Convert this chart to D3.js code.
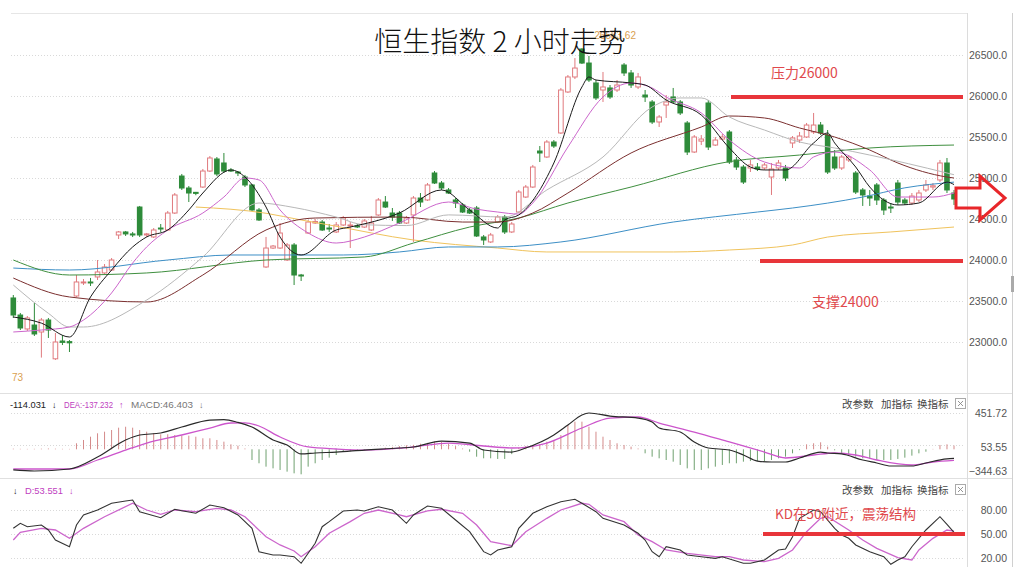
<!DOCTYPE html>
<html><head><meta charset="utf-8">
<script src="https://cdn.jsdelivr.net/npm/d3@7"></script>
<style>body{margin:0;background:#fff;}svg{display:block;}</style>
</head><body>
<svg id="c" width="1024" height="567"></svg>
<script>
// ---------- DATA ----------
const opens = [23537,23329,23159,23207,23122,23268,22795,23012,23005,23561,
23720,23732,23793,23842,23878,24305,24342,24318,24646,24305,
24281,24390,24366,24573,25024,24878,24825,24890,25085,25232,
25183,25098,25073,25012,24915,24610,23915,24146,24146,24000,
24183,23817,24329,24451,24463,24390,24342,24427,24415,24415,
24402,24366,24549,24707,24573,24573,24451,24549,24756,24732,
25061,24939,24854,24732,24671,24610,24634,24281,24220,24463,
24525,24342,24585,24768,24890,25329,25256,25439,25549,26049,
26232,26573,26402,26159,26073,26098,26073,26378,26281,26110,
26012,25927,25683,25890,25988,25927,25671,25317,25450,25915,
25402,25475,25561,25220,25134,25122,25134,25122,25012,25122,
25122,25427,25463,25500,25561,25646,25524,25256,25122,25220,
25061,24854,24780,24915,24732,24646,24939,24732,24695,24732,
24854,24890,24976,25183,24817];
const highs = [23573,23354,23317,23476,23293,23293,23110,23085,23024,23817,
23768,23781,24000,23951,24024,24354,24354,24342,24659,24330,
24390,24439,24598,24817,25049,24902,24830,25110,25268,25256,
25305,25122,25085,25037,24927,24634,24281,24183,24451,24207,
24207,23830,24488,24500,24488,24439,24463,24537,24463,24440,
24500,24537,24756,24780,24634,24598,24537,24780,24817,24939,
25085,24963,24878,24756,24695,24634,24659,24305,24330,24549,
24549,24463,24854,24915,25159,25390,25463,25463,26098,26256,
26463,26583.62,26488,26195,26293,26134,26195,26402,26317,26281,
26073,25951,25768,26012,26098,25951,25695,25524,25524,25951,
25500,25537,25585,25256,25159,25220,25183,25183,25183,25220,
25159,25512,25561,25671,25793,25683,25585,25341,25280,25280,
25085,24878,24854,24939,24756,24695,24976,24756,24817,24854,
24976,24939,25220,25244,24854];
const lows = [23293,23146,23134,23073,22810,23049,22780.73,22963,22878,23549,
23695,23683,23756,23829,23866,24256,24293,24280,24280,24280,
24268,24342,24354,24561,24854,24707,24790,24878,25073,25024,
25061,25073,25024,24890,24598,24476,23903,24134,24134,23988,
23695,23744,24317,24439,24354,24342,24329,24415,24146,24390,
24390,24354,24537,24634,24476,24439,24439,24220,24646,24720,
24927,24854,24805,24634,24573,24561,24281,24183,24207,24451,
24317,24329,24573,24756,24878,25195,25244,25366,25537,26037,
26207,26390,26171,25951,25927,25964,26049,26244,26098,26085,
25927,25658,25622,25732,25915,25768,25280,25305,25402,25341,
25390,25463,25171,25098,24927,25073,25085,25098,24793,25098,
24963,25366,25427,25488,25537,25524,25049,25098,25098,25195,
24805,24659,24659,24671,24549,24573,24671,24671,24671,24707,
24829,24854,24951,24817,24671];
const closes = [23329,23171,23293,23098,23268,23146,23000,22995,22990,23732,
23732,23720,23854,23915,24000,24342,24318,24305,24305,24318,
24366,24378,24573,24793,24878,24817,24812,25085,25244,25049,
25085,25085,25061,24915,24610,24488,24146,24170,24329,24183,
23817,23805,24463,24470,24366,24378,24427,24512,24427,24405,
24476,24451,24732,24646,24524,24451,24512,24756,24707,24915,
24939,24878,24817,24695,24585,24573,24293,24244,24305,24525,
24342,24439,24829,24890,25134,25305,25439,25390,26073,26232,
26341,26402,26195,25976,26110,25988,26134,26281,26134,26232,
25988,25683,25744,25927,25927,25793,25317,25500,25475,25378,
25463,25500,25195,25134,24951,25159,25110,25159,25110,25183,
25000,25488,25512,25646,25646,25549,25073,25122,25256,25256,
24829,24793,24756,24732,24610,24634,24707,24695,24780,24817,
24915,24905,25183,24854,24744];

// moving averages, [bar index, value]
const ma5 = [[0,23305],[4,23230],[8,23061],[11,23549],[14,23878],[17,24159],[19,24281],[22,24366],[25,24610],[27,24817],[31,25098],[33,25012],[36,24646],[38,24280],[41,24061],[46,24366],[48,24402],[55,24573],[61,24854],[65,24610],[69,24390],[70,24488],[72,24549],[77,25183],[81,26110],[82,26232],[83,26195],[88,26159],[90,26134],[93,25951],[98,25768],[102,25366],[105,25134],[107,25098],[110,25098],[114,25427],[116,25549],[117,25427],[120,25134],[122,24890],[126,24671],[129,24695],[133,24950],[134,24920]];
const ma10 = [[0,23122],[4,23146],[8,23183],[10,23268],[14,23598],[17,23963],[19,24159],[22,24366],[27,24573],[30,24768],[33,25000],[35,24976],[38,24610],[42,24330],[46,24207],[50,24280],[55,24451],[62,24707],[66,24620],[69,24585],[72,24560],[74,24695],[79,25378],[84,25988],[88,26159],[91,26098],[93,25988],[98,25793],[102,25463],[107,25195],[112,25122],[114,25256],[117,25317],[122,25098],[126,24768],[131,24768],[134,24817]];
const ma20 = [[0,23695],[5,23350],[8,23183],[10,23183],[19,23512],[27,24037],[35,24695],[40,24640],[46,24524],[50,24430],[56,24420],[62,24550],[70,24524],[76,24854],[84,25256],[91,25866],[95,25976],[98,25976],[102,25744],[107,25585],[112,25439],[117,25366],[122,25280],[133,25061],[134,25040]];
const ma30 = [[0,23780],[8,23549],[19,23488],[27,23817],[36,24366],[43,24512],[55,24524],[64,24463],[69,24463],[74,24573],[79,24817],[88,25305],[98,25622],[102,25756],[107,25732],[112,25610],[117,25500],[122,25341],[126,25183],[133,25012],[134,25000]];
const ma60 = [[0,24000],[8,23817],[19,23842],[36,24000],[50,24037],[57,24207],[65,24402],[72,24512],[79,24695],[88,24890],[102,25200],[112,25280],[122,25366],[134,25402]];
const ma120 = [[0,23902],[8,23878],[22,24000],[31,24061],[47,24061],[55,24098],[62,24159],[69,24159],[78,24220],[94,24463],[106,24585],[111,24634],[121,24768],[127,24880],[134,24950]];
const ma250 = [[26,24646],[36,24570],[41,24488],[45,24427],[57,24244],[69,24146],[76,24098],[94,24098],[102,24122],[111,24183],[116,24280],[125,24342],[134,24402]];

// MACD
const dif = [[0,-257],[3,-270],[8,-245],[12,-96],[16,116],[18,178],[21,203],[24,277],[28,364],[30,370],[32,335],[34,277],[37,116],[39,53],[41,-58],[43,-46],[46,-34],[50,-9],[55,16],[57,29],[61,103],[65,78],[67,-9],[71,-34],[73,16],[77,178],[79,302],[81,427],[82,451.72],[85,414],[89,389],[91,340],[92,265],[95,215],[97,91],[99,16],[102,-9],[104,-71],[106,-146],[108,-158],[110,-158],[112,-108],[115,-34],[116,-46],[118,-58],[121,-133],[123,-170],[125,-208],[128,-208],[130,-170],[133,-120],[134,-114.031]];
const dea = [[0,-245],[8,-245],[12,-133],[16,-9],[19,78],[24,178],[28,265],[31,327],[33,330],[35,290],[38,153],[42,29],[46,4],[50,-9],[57,29],[62,78],[67,41],[71,16],[76,78],[81,265],[85,389],[89,402],[92,327],[97,215],[102,91],[107,-34],[110,-108],[114,-71],[117,-46],[120,-71],[123,-133],[128,-195],[131,-158],[134,-137.232]];
const macdHist = [8,6,5,6,8,10,8,6,5,
75,116,157,199,219,240,269,281,269,240,219,199,187,187,178,170,170,157,137,137,116,95,62,45,10,
-133,-174,-216,-237,-257,-278,-299,-311,-216,-174,-133,-104,-71,
-30,-25,-20,-15,-10,-5,
20,30,40,50,55,70,80,95,90,70,40,10,
-30,-92,-112,-112,-120,-120,-60,
20,41,54,62,95,116,178,302,344,344,281,219,157,116,75,54,33,10,
-50,-92,-112,-133,-154,-195,-237,-257,-257,-237,-216,-195,-174,-174,-154,-146,-146,-146,-133,-112,-92,-50,-10,
62,75,87,33,-12,
-50,-71,-92,-112,-120,-133,-133,-133,-120,-104,-79,-50,-30,5,54,62,46.403];

// KD
const kLine = [[0,57.1],[1,63.4],[2,59.1],[4,61.3],[5,55],[6,42.5],[8,34.1],[9,61.3],[10,73.8],[12,80],[14,88.4],[16,91.3],[17,92.5],[18,77.9],[21,70.4],[23,80.9],[24,79.1],[26,75.9],[28,86.3],[30,82.9],[32,73.8],[34,57.1],[35,27.9],[37,23.8],[38,23.8],[40,21.6],[41,13.4],[43,38.4],[44,59.1],[45,65.4],[47,78.8],[49,80],[50,78.8],[52,84.1],[54,80],[56,63.4],[57,73.8],[59,85],[61,82.1],[63,67.5],[65,52.9],[67,27.9],[68,23.8],[69,30],[71,34.1],[72,57.1],[74,75.9],[76,84.1],[78,90.4],[80,93.4],[81,88.4],[83,77.9],[84,69.6],[87,61.3],[89,50.9],[90,42.5],[91,27.9],[92,21.6],[93,34.1],[95,30],[96,23.8],[98,21.6],[100,19.6],[101,21.6],[104,13.4],[105,13.4],[107,17.5],[108,23.8],[109,30],[110,31.3],[111,46.6],[112,69.6],[114,80],[115,77.9],[117,57.1],[118,48.8],[119,44.6],[120,36.3],[122,27.9],[124,21.6],[125,12.1],[126,17.5],[127,21.6],[128,34.1],[130,55],[132,71.6],[133,62.1],[134,52.1]];
const dLine = [[0,42.5],[1,52.1],[4,57.1],[6,55],[8,44.6],[10,57.1],[13,71.6],[17,88.4],[19,80],[21,74.6],[23,80],[26,77.9],[29,82.1],[31,80],[33,71.6],[36,46.6],[38,36.3],[40,28.8],[41,21.6],[43,34.1],[45,50.9],[48,65.4],[50,75.9],[52,80],[55,73.8],[56,71.6],[59,78.8],[61,80.9],[64,75.9],[66,61.3],[68,40.4],[71,35.4],[73,52.9],[76,69.6],[78,80],[81,88.4],[82,87.1],[84,73.8],[87,65.4],[89,48.8],[91,40.4],[93,30],[96,25.9],[100,21.6],[102,21.6],[104,17.5],[107,15.4],[109,19.6],[111,30],[113,52.9],[115,69.6],[116,71.6],[119,55],[121,42.5],[123,32.1],[126,20.4],[128,17.5],[129,30],[131,44.6],[133,55],[134,53.551]];

const priceTicks = [26500,26000,25500,25000,24500,24000,23500,23000];
const macdTicks = [451.72,53.55,-344.63];
const kdTicks = [80,50,20];
const resistance = 26000, support = 24000, kdLevel = 50;
const maxPrice = 26583.62;

// ---------- DRAW ----------
const svg = d3.select('#c');
const N = opens.length;
const x = d3.scaleLinear().domain([0, N-1]).range([13.3, 954]);
const y = d3.scaleLinear().domain([23000, 26500]).range([342, 55]);
const yM = d3.scaleLinear().domain([-344.63, 451.72]).range([477, 413]);
const yK = d3.scaleLinear().domain([20, 80]).range([558, 510]);

const gridC = '#d9d9d9', axisTxt = '#555';
const LX0 = 11, LX1 = 965;

// frames
svg.append('line').attr('x1',LX0).attr('x2',967).attr('y1',13.5).attr('y2',13.5).attr('stroke','#e6e6e6');
[393.5, 478.5].forEach(v=>svg.append('line').attr('x1',0).attr('x2',1012).attr('y1',v).attr('y2',v).attr('stroke','#e0e0e0'));
svg.append('line').attr('x1',967.5).attr('x2',967.5).attr('y1',13).attr('y2',567).attr('stroke','#dcdcdc');
svg.append('line').attr('x1',1012.5).attr('x2',1012.5).attr('y1',13).attr('y2',567).attr('stroke','#d0d0d0');
svg.append('rect').attr('x',1011).attr('y',276).attr('width',3).attr('height',16).attr('fill','#aaa');

// grids
const dotted = (yy)=>svg.append('line').attr('x1',LX0).attr('x2',LX1).attr('y1',Math.round(yy)+0.5).attr('y2',Math.round(yy)+0.5)
  .attr('stroke',gridC).attr('stroke-dasharray','1,2');
priceTicks.forEach(t=>dotted(y(t)));
macdTicks.slice(0,2).forEach(t=>dotted(yM(t)));
kdTicks.forEach(t=>dotted(yK(t)));

// axis labels
const fmt1 = d3.format('.1f'), fmt2 = d3.format('.2f');
const ax = svg.append('g').attr('font-family','Liberation Sans, Arial, sans-serif').attr('font-size','10.5px').attr('fill',axisTxt).attr('text-anchor','end');
priceTicks.forEach(t=>ax.append('text').attr('x',1007).attr('y',y(t)).attr('dy','0.35em').text(fmt1(t)));
macdTicks.forEach(t=>ax.append('text').attr('x',1007).attr('y',Math.min(yM(t)+(t===53.55?2:0),471)).attr('dy','0.35em').text(fmt2(t)));
kdTicks.forEach(t=>ax.append('text').attr('x',1007).attr('y',yK(t)).attr('dy','0.35em').text(fmt2(t)));

// candles
const upC = '#e07a7e', dnC = '#2e8b3a', bw = 4.6;
const cg = svg.append('g');
d3.range(N).forEach(i=>{
  const up = closes[i] >= opens[i];
  const col = up ? upC : dnC;
  const cx = x(i);
  cg.append('line').attr('x1',cx).attr('x2',cx).attr('y1',y(highs[i])).attr('y2',y(lows[i])).attr('stroke',col).attr('stroke-width',1);
  const top = y(Math.max(opens[i],closes[i])), bot = y(Math.min(opens[i],closes[i]));
  const h = Math.max(bot-top, 1);
  if (up) cg.append('rect').attr('x',cx-bw/2).attr('y',top).attr('width',bw).attr('height',h).attr('fill','#fff').attr('stroke',col).attr('stroke-width',1);
  else cg.append('rect').attr('x',cx-bw/2-0.5).attr('y',top-0.5).attr('width',bw+1).attr('height',h+1).attr('fill',col);
});

// moving averages
const maLine = d3.line().x(d=>x(d[0])).y(d=>y(d[1])).curve(d3.curveMonotoneX);
const maSet = [[ma250,'#f0c35c'],[ma120,'#3d8fc6'],[ma60,'#3f8f3f'],[ma30,'#7b2f2f'],[ma20,'#b8b8b8'],[ma10,'#cc66cc'],[ma5,'#1a1a1a']];
maSet.forEach(([d,c])=>svg.append('path').attr('d',maLine(d)).attr('fill','none').attr('stroke',c).attr('stroke-width',1));

// price labels
svg.append('text').attr('x',636).attr('y',39).attr('text-anchor','end').attr('font-family','Liberation Sans, Arial, sans-serif').attr('font-size','10px').attr('fill','#d9a050').text(fmt2(maxPrice));
svg.append('text').attr('x',12).attr('y',381).attr('font-family','Liberation Sans, Arial, sans-serif').attr('font-size','10px').attr('fill','#d9a050').text('73');

// MACD histogram
const y0 = yM(0);
macdHist.forEach((v,i)=>{
  svg.append('line').attr('x1',x(i)).attr('x2',x(i)).attr('y1',y0).attr('y2',yM(v))
    .attr('stroke', v>=0 ? '#d48a8a' : '#6fa06f').attr('stroke-width',1);
});
const mLine = d3.line().x(d=>x(d[0])).y(d=>yM(d[1])).curve(d3.curveMonotoneX);
svg.append('path').attr('d',mLine(dea)).attr('fill','none').attr('stroke','#cc55cc').attr('stroke-width',1.3);
svg.append('path').attr('d',mLine(dif)).attr('fill','none').attr('stroke','#2a2a2a').attr('stroke-width',1.2);

// KD
const kdL = d3.line().x(d=>x(d[0])).y(d=>yK(d[1]));
svg.append('path').attr('d',kdL(dLine)).attr('fill','none').attr('stroke','#cc66cc').attr('stroke-width',1.3);
svg.append('path').attr('d',kdL(kLine)).attr('fill','none').attr('stroke','#333').attr('stroke-width',1.1);

// headers
const hf = 'Liberation Sans, Arial, sans-serif';
const hdr = (xx,yy,t,c,len)=>{
  const el = svg.append('text').attr('x',xx).attr('y',yy).attr('font-family',hf).attr('font-size','9px').attr('fill',c).text(t);
  if (len) el.attr('textLength',len).attr('lengthAdjust','spacingAndGlyphs');
};
hdr(10,408,'-114.031','#222',36); hdr(52,408,'↓','#222');
hdr(64,408,'DEA:-137.232','#c040c0',49); hdr(119,408,'↑','#c040c0');
hdr(131,408,'MACD:46.403','#777',62); hdr(199,408,'↓','#777');
hdr(13,494,'↓','#222'); hdr(25,494,'D:53.551','#c040c0',38); hdr(69,494,'↓','#c040c0');
[408,494].forEach(yy=>{
  [['改参数',842],['加指标',881],['换指标',917]].forEach(([t,xx])=>
    svg.append('text').attr('x',xx).attr('y',yy).attr('font-family','Noto Sans CJK SC, sans-serif').attr('font-size','10.5px').attr('fill','#444').text(t));
  svg.append('rect').attr('x',955.5).attr('y',yy-9.5).attr('width',10).attr('height',10).attr('fill','#fff').attr('stroke','#aaa');
  svg.append('path').attr('d',`M958,${yy-7}L963,${yy-2}M963,${yy-7}L958,${yy-2}`).attr('stroke','#888').attr('stroke-width',0.9);
});

// annotations
const red = '#e8353a', redTxt = '#e0484c';
svg.append('line').attr('x1',731).attr('x2',963).attr('y1',y(resistance)+1).attr('y2',y(resistance)+1).attr('stroke',red).attr('stroke-width',4);
svg.append('line').attr('x1',760).attr('x2',963).attr('y1',y(support)+1).attr('y2',y(support)+1).attr('stroke',red).attr('stroke-width',4);
svg.append('line').attr('x1',763).attr('x2',965).attr('y1',yK(kdLevel)).attr('y2',yK(kdLevel)).attr('stroke',red).attr('stroke-width',4);
const at = (xx,yy,t,fs)=>svg.append('text').attr('x',xx).attr('y',yy).attr('font-family','Noto Sans CJK SC, sans-serif').attr('font-size',fs).attr('fill',redTxt).text(t);
at(771,78,'压力26000','14px');
at(812,307,'支撑24000','14px');
at(775,519,'KD在50附近，震荡结构','13.5px');
svg.append('path').attr('d','M956,188L980,188L980,176L1005,198L980,220L980,208L956,208Z')
  .attr('fill','none').attr('stroke','#e8262a').attr('stroke-width',3).attr('stroke-linejoin','miter');

// title
svg.append('text').attr('x',500).attr('y',52).attr('text-anchor','middle').attr('font-family','Noto Sans CJK SC, sans-serif')
  .attr('font-size','28px').attr('font-weight',300).attr('fill','#111').text('恒生指数 2 小时走势');
</script>
</body></html>
